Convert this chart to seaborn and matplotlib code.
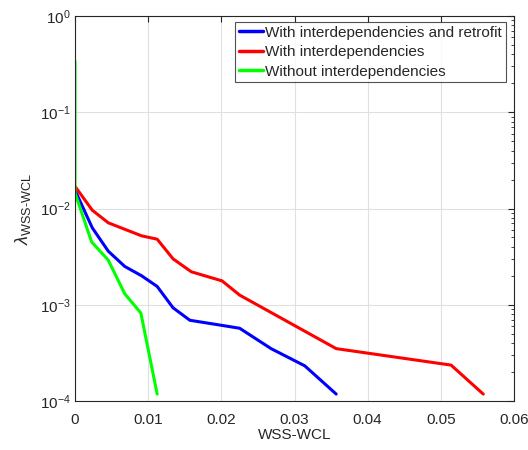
import numpy as np
import pandas as pd
import matplotlib
matplotlib.use("Agg")
import matplotlib.pyplot as plt
import seaborn as sns
from matplotlib.ticker import FuncFormatter, LogLocator, NullFormatter

# Data
x_retro = [0, 0.00236, 0.00455, 0.0068, 0.0091, 0.01123, 0.0134, 0.0157, 0.0201, 0.0225, 0.0268, 0.0314, 0.0357]
y_retro = [0.0155, 0.0063, 0.0036, 0.0025, 0.0020, 0.00155, 0.00093, 0.00069, 0.00061, 0.00057, 0.00035, 0.000232, 0.000118]

x_inter = [0, 0.00236, 0.00455, 0.0091, 0.01123, 0.0134, 0.0159, 0.0201, 0.0225, 0.0357, 0.0514, 0.0558]
y_inter = [0.017, 0.0096, 0.0071, 0.0052, 0.0048, 0.0030, 0.0022, 0.00177, 0.00126, 0.00035, 0.000236, 0.000118]

x_without = [0, 0, 0.00227, 0.00455, 0.0068, 0.0090, 0.01123]
y_without = [0.34, 0.0145, 0.0045, 0.0029, 0.0013, 0.00082, 0.000118]

labels = ["With interdependencies and retrofit", "With interdependencies", "Without interdependencies"]
colors = ["#0000FF", "#FF0000", "#00FF00"]
xticks = [0, 0.01, 0.02, 0.03, 0.04, 0.05, 0.06]

frames = []
for lab, xs, ys in zip(labels, [x_retro, x_inter, x_without], [y_retro, y_inter, y_without]):
    frames.append(pd.DataFrame({"x": xs, "y": ys, "series": lab, "order": range(len(xs))}))
df = pd.concat(frames, ignore_index=True)

sns.set_style("white")
plt.rcParams["font.family"] = ["Liberation Sans", "DejaVu Sans"]
plt.rcParams["mathtext.fontset"] = "custom"
plt.rcParams["mathtext.rm"] = "Liberation Sans"
plt.rcParams["mathtext.it"] = "Liberation Sans:italic"
plt.rcParams["mathtext.sf"] = "Liberation Sans"

fig = plt.figure(figsize=(5.28, 4.5), dpi=100)
ax = fig.add_axes([75 / 528, 1 - 401 / 450, (514 - 75) / 528, (401 - 16) / 450])

sns.lineplot(data=df, x="x", y="y", hue="series", hue_order=labels,
             palette=dict(zip(labels, colors)), sort=False, estimator=None,
             linewidth=2.2, ax=ax, legend=True)

ax.set_yscale("log")
ax.set_xlim(0, 0.06)
ax.set_ylim(1e-4, 1)
ax.set_xticks(xticks)
ax.xaxis.set_major_formatter(FuncFormatter(lambda v, p: "%g" % v))
ax.yaxis.set_major_locator(LogLocator(base=10, numticks=10))
ax.yaxis.set_minor_locator(LogLocator(base=10, subs=np.arange(2, 10), numticks=10))
ax.yaxis.set_minor_formatter(NullFormatter())

ax.grid(True, which="major", color="#e0e0e0", linewidth=0.8)
ax.set_axisbelow(True)
for s in ax.spines.values():
    s.set_color("#262626")
    s.set_linewidth(0.8)
ax.tick_params(which="both", direction="in", top=True, right=True, colors="#262626",
               labelsize=11, labelcolor="#262626")
ax.tick_params(axis="x", which="major", pad=8.5)
ax.tick_params(axis="y", which="major", pad=3)
ax.tick_params(which="major", length=4)
ax.tick_params(which="minor", length=2)

ax.set_xlabel("WSS-WCL", fontsize=11, color="#262626", labelpad=1)
ax.set_ylabel(r"$\lambda_{\mathrm{WSS\text{-}WCL}}$", fontsize=13, color="#262626", labelpad=5)

leg = ax.legend(loc="upper right", bbox_to_anchor=(0.9818, 0.9844), fontsize=11,
                frameon=True, fancybox=False, edgecolor="#262626", handlelength=1.6,
                handletextpad=0.15, borderpad=0.25, labelspacing=0.35, borderaxespad=0.0)
leg.get_frame().set_linewidth(0.8)
for line in leg.get_lines():
    line.set_linewidth(2.5)

fig.savefig("out.png", dpi=100, facecolor="white")
